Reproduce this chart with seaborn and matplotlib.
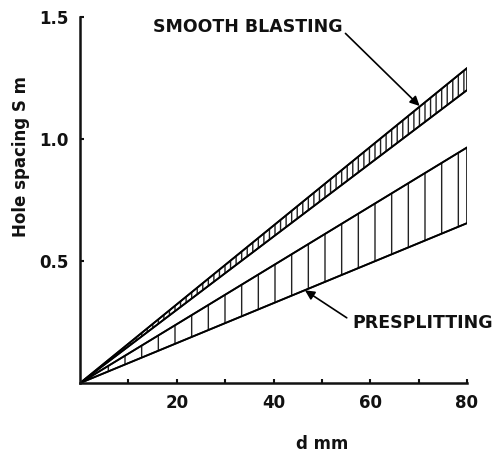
import matplotlib
matplotlib.use("Agg")
import matplotlib.pyplot as plt
import seaborn as sns
import pandas as pd

# Data
d_mm = [0, 80]
smooth_low = [0, 1.20]
smooth_high = [0, 1.29]
pre_low = [0, 0.655]
pre_high = [0, 0.965]
x_ticks = [10, 20, 30, 40, 50, 60, 70, 80]
x_labels = ["", "20", "", "40", "", "60", "", "80"]
y_ticks = [0.5, 1.0, 1.5]
y_labels = ["0.5", "1.0", "1.5"]

sns.set_style("ticks")
plt.rcParams['font.family'] = ['DejaVu Sans']
plt.rcParams['font.weight'] = 'bold'
plt.rcParams['hatch.linewidth'] = 1.0
plt.rcParams['text.color'] = '#111111'
plt.rcParams['axes.labelcolor'] = '#111111'

fig = plt.figure(figsize=(5, 4.55), dpi=100)
ax = fig.add_axes([0.16, 0.158, 0.774, 0.805])

df = pd.DataFrame({"d": d_mm, "sl": smooth_low, "sh": smooth_high,
                   "pl": pre_low, "ph": pre_high})
for col in ["sl", "sh", "pl", "ph"]:
    sns.lineplot(data=df, x="d", y=col, ax=ax, color="black", linewidth=1.3)

ax.fill_between(df["d"], df["sl"], df["sh"], facecolor="none",
                edgecolor="#222222", hatch="|||", linewidth=1.3)
ax.fill_between(df["d"], df["pl"], df["ph"], facecolor="none",
                edgecolor="#222222", hatch="|", linewidth=1.3)

ax.set_xlim(0, 80)
ax.set_ylim(0, 1.5)
ax.set_xticks(x_ticks)
ax.set_xticklabels(x_labels, fontsize=12, fontweight="bold")
ax.set_yticks(y_ticks)
ax.set_yticklabels(y_labels, fontsize=12, fontweight="bold")
ax.tick_params(direction="in", length=3, width=1.5, pad=8,
               colors="#111111", labelcolor="#111111")
for s in ["top", "right"]:
    ax.spines[s].set_visible(False)
for s in ["left", "bottom"]:
    ax.spines[s].set_linewidth(1.8)
    ax.spines[s].set_color("#111111")

ax.set_xlabel("d mm", fontsize=12, fontweight="bold")
ax.xaxis.set_label_coords(0.625, -0.143)
ax.set_ylabel("Hole spacing S m", fontsize=12, fontweight="bold")
ax.yaxis.set_label_coords(-0.13, 0.62)

ax.annotate("SMOOTH BLASTING", xy=(70.2, 1.135), xytext=(34.6, 1.46),
            ha="center", va="center", fontsize=12.5, fontweight="bold",
            arrowprops=dict(arrowstyle="-|>", color="black", lw=1.2,
                            shrinkA=0, shrinkB=0, mutation_scale=14,
                            relpos=(1.0, 0.3)),
            annotation_clip=False)
ax.annotate("PRESPLITTING", xy=(46.5, 0.38), xytext=(56.3, 0.245),
            ha="left", va="center", fontsize=12.5, fontweight="bold",
            arrowprops=dict(arrowstyle="-|>", color="black", lw=1.2,
                            shrinkA=2, shrinkB=0, mutation_scale=14,
                            relpos=(0.0, 0.6)),
            annotation_clip=False)

fig.savefig("out.png", dpi=100)
